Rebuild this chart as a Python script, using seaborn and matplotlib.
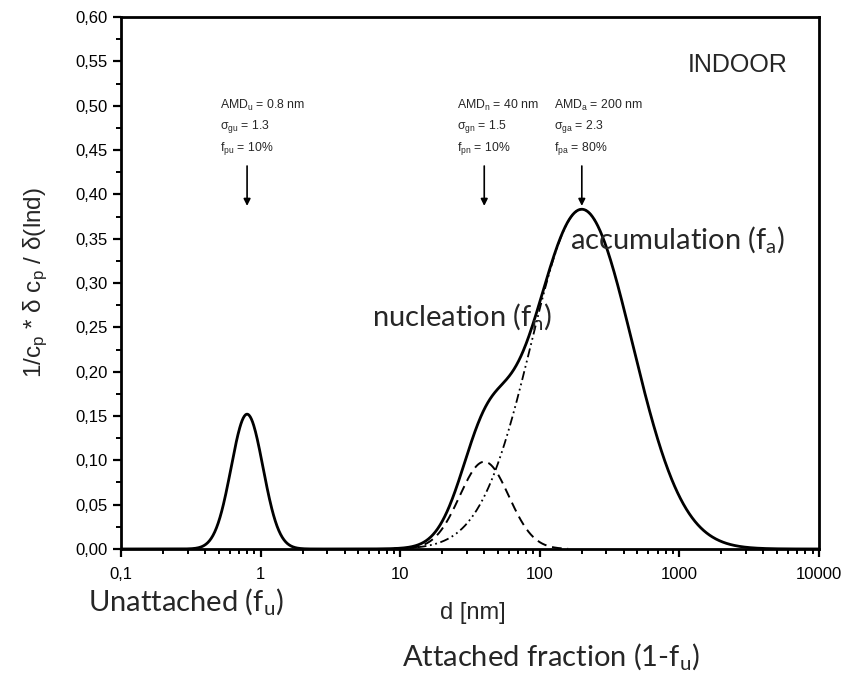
import numpy as np
import pandas as pd
import matplotlib
matplotlib.use("Agg")
import matplotlib.pyplot as plt
from matplotlib.ticker import FixedLocator, MultipleLocator, FuncFormatter, LogLocator, NullFormatter
import seaborn as sns

# Log-normal mode parameters (unattached, nucleation, accumulation)
mode_names = ["u", "n", "a"]
amd_nm = [0.8, 40.0, 200.0]
sigma_g = [1.3, 1.5, 2.3]
fraction = [0.10, 0.10, 0.80]

x_ticks = [0.1, 1, 10, 100, 1000, 10000]
x_tick_labels = ["0,1", "1", "10", "100", "1000", "10000"]
y_ticks = [0.00, 0.05, 0.10, 0.15, 0.20, 0.25, 0.30, 0.35, 0.40, 0.45, 0.50, 0.55, 0.60]

sns.set_theme(style="ticks")
plt.rcParams["font.family"] = ["Liberation Sans", "DejaVu Sans"]
plt.rcParams["mathtext.fontset"] = "custom"
plt.rcParams["mathtext.rm"] = "Liberation Sans"
plt.rcParams["mathtext.it"] = "Liberation Sans"


def lognormal_mode(d, amd, sg, f):
    ls = np.log(sg)
    return f / (np.sqrt(2 * np.pi) * ls) * np.exp(-(np.log(d / amd)) ** 2 / (2 * ls ** 2))


d = np.logspace(-1, 4, 1200)
modes = [lognormal_mode(d, a, s, f) for a, s, f in zip(amd_nm, sigma_g, fraction)]
total = np.sum(modes, axis=0)

fig = plt.figure(figsize=(8.54, 6.75), dpi=100)
ax = fig.add_axes([0.1417, 0.1867, 0.8173, 0.788])

sns.lineplot(x=d, y=total, ax=ax, color="black", linewidth=2.0, estimator=None, sort=False)

nuc_mask = (d > 9) & (d < 160)
sns.lineplot(x=d[nuc_mask], y=modes[1][nuc_mask], ax=ax, color="black", linewidth=1.4,
             linestyle=(0, (5, 3)), estimator=None, sort=False)
acc_mask = (d > 9) & (d < 250)
sns.lineplot(x=d[acc_mask], y=modes[2][acc_mask], ax=ax, color="black", linewidth=1.3,
             linestyle=(0, (5, 2, 1, 2, 1, 2)), estimator=None, sort=False)

ax.set_xscale("log")
ax.set_xlim(0.1, 10000)
ax.set_ylim(0, 0.6)
ax.xaxis.set_major_locator(FixedLocator(x_ticks))
ax.set_xticklabels(x_tick_labels)
ax.xaxis.set_minor_locator(LogLocator(base=10, subs=np.arange(2, 10)))
ax.xaxis.set_minor_formatter(NullFormatter())
ax.yaxis.set_major_locator(FixedLocator(y_ticks))
ax.yaxis.set_minor_locator(MultipleLocator(0.025))
ax.yaxis.set_major_formatter(FuncFormatter(lambda v, p: f"{v:.2f}".replace(".", ",")))

for s in ax.spines.values():
    s.set_visible(True)
    s.set_linewidth(2.0)
    s.set_color("black")
ax.tick_params(which="major", direction="out", length=6, width=1.6, labelsize=12, colors="black")
ax.tick_params(which="minor", direction="out", length=3.5, width=1.4, colors="black")
ax.tick_params(axis="x", which="major", pad=7)
ax.tick_params(axis="x", which="both", top=False)
ax.tick_params(axis="y", which="both", right=False)

ax.set_xlabel("")
ax.set_ylabel(r"1/c$_\mathregular{p}$ * δ c$_\mathregular{p}$ / δ(lnd)", fontsize=17.5, labelpad=18)

# Mode descriptions with arrows
labels = [
    [r"AMD$_\mathregular{u}$ = 0.8 nm", r"σ$_\mathregular{gu}$ = 1.3", r"f$_\mathregular{pu}$ = 10%"],
    [r"AMD$_\mathregular{n}$ = 40 nm", r"σ$_\mathregular{gn}$ = 1.5", r"f$_\mathregular{pn}$ = 10%"],
    [r"AMD$_\mathregular{a}$ = 200 nm", r"σ$_\mathregular{ga}$ = 2.3", r"f$_\mathregular{pa}$ = 80%"],
]
text_x = [0.51, 25.5, 126]
line_y = [0.500, 0.477, 0.452]
for tx, lines, a in zip(text_x, labels, amd_nm):
    for ty, t in zip(line_y, lines):
        ax.text(tx, ty, t, fontsize=8.8, ha="left", va="center")
    ax.annotate("", xy=(a, 0.387), xytext=(a, 0.432),
                arrowprops=dict(arrowstyle="-|>", color="black", lw=1.2,
                                mutation_scale=10, shrinkA=0, shrinkB=0))

ax.text(0.812, 0.91, "INDOOR", transform=ax.transAxes, fontsize=18, ha="left", va="center")

# Descriptive labels in a Calibri-like face
cal = ["Lato", "DejaVu Sans"]
fig.text(570 / 854, 1 - 240 / 675, "accumulation (f$_\\mathregular{a}$)", family=cal, fontsize=21,
         ha="left", va="center")
fig.text(372 / 854, 1 - 317 / 675, "nucleation (f$_\\mathregular{n}$)", family=cal, fontsize=21,
         ha="left", va="center")
fig.text(88 / 854, 1 - 602 / 675, "Unattached (f$_\\mathregular{u}$)", family=cal, fontsize=21,
         ha="left", va="center")
fig.text(402 / 854, 1 - 657 / 675, "Attached fraction (1-f$_\\mathregular{u}$)", family=cal, fontsize=21,
         ha="left", va="center")
fig.text(473 / 854, 1 - 613 / 675, "d [nm]", fontsize=17, ha="center", va="center")

fig.savefig("out.png", dpi=100, facecolor="white")
